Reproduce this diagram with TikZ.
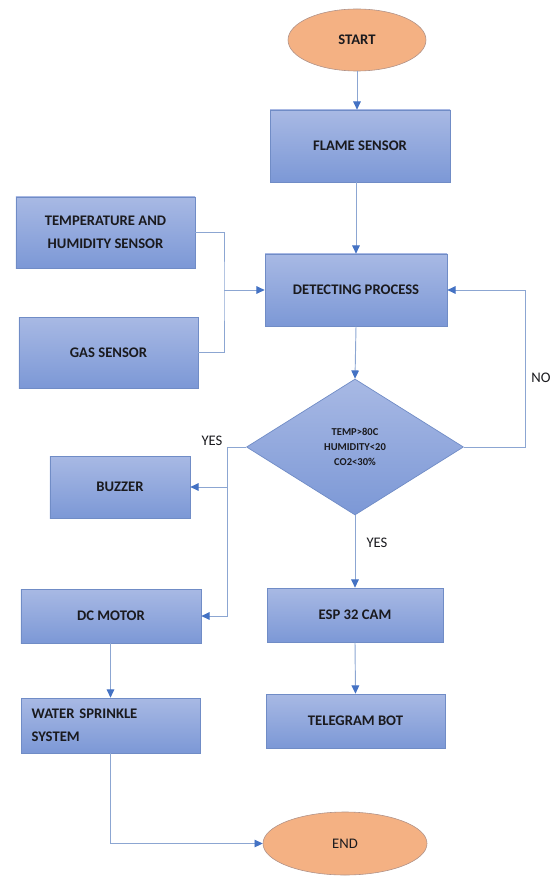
\documentclass[tikz,border=0pt]{standalone}
\usepackage{fontspec}
\setmainfont{Carlito}
\usetikzlibrary{shapes.geometric,arrows.meta}
\definecolor{boxtop}{RGB}{168,185,228}
\definecolor{boxbot}{RGB}{124,152,214}
\definecolor{boxedge}{RGB}{112,140,198}
\definecolor{ovalfill}{RGB}{244,177,131}
\definecolor{ovaledge}{RGB}{176,146,136}
\definecolor{linkline}{RGB}{140,166,210}
\definecolor{tipblue}{RGB}{68,114,196}
\definecolor{ink}{RGB}{26,26,30}
\begin{document}
\begin{tikzpicture}[x=0.03cm,y=-0.03cm,
    proc/.style={draw=boxedge,line width=0.6pt,top color=boxtop,bottom color=boxbot,
        text=ink,font=\fontsize{12.5}{19.5}\selectfont\bfseries,align=center,inner sep=0pt},
    oval/.style={ellipse,draw=ovaledge,line width=0.5pt,fill=ovalfill,text=ink,
        font=\fontsize{12.5}{15}\selectfont,inner sep=0pt},
    decide/.style={diamond,draw=boxedge,line width=0.6pt,top color=boxtop,bottom color=boxbot,
        text=ink,font=\fontsize{9}{12.8}\selectfont\bfseries,align=center,inner sep=0pt},
    link/.style={draw=linkline,line width=0.8pt},
    flow/.style={link,-{Triangle[length=7pt,width=6.5pt,color=tipblue]}},
    tag/.style={text=ink,font=\fontsize{12.5}{15}\selectfont,inner sep=0pt}]
    \useasboundingbox (0,0) rectangle (558,876);
    % nodes
    \node[oval,minimum width=4.14cm,minimum height=1.86cm] (start) at (357,40) {\bfseries START};
    \node[proc,minimum width=5.4cm,minimum height=2.16cm] (flame) at (360,146) {FLAME SENSOR};
    \node[proc,minimum width=5.37cm,minimum height=2.13cm] (temphum) at (105.5,232.5) {TEMPERATURE AND\\HUMIDITY SENSOR};
    \node[proc,minimum width=5.37cm,minimum height=2.13cm] (gas) at (108.5,352.5) {GAS SENSOR};
    \node[proc,minimum width=5.46cm,minimum height=2.16cm] (detect) at (356,290) {DETECTING PROCESS};
    \node[decide,minimum width=6.51cm,minimum height=4.08cm] (check) at (355,447) {TEMP>80C\\HUMIDITY<20\\CO2<30\%};
    \node[proc,minimum width=4.2cm,minimum height=1.86cm] (buzzer) at (120,487) {BUZZER};
    \node[proc,minimum width=5.4cm,minimum height=1.62cm] (motor) at (111,616) {DC MOTOR};
    \node[proc,minimum height=1.65cm,text width=4.73cm,inner xsep=9pt,align=left] (sprinkle) at (110.5,725.5) {WATER SPRINKLE\\SYSTEM};
    \node[proc,minimum width=5.28cm,minimum height=1.62cm] (espcam) at (355,615) {ESP 32 CAM};
    \node[proc,minimum width=5.37cm,minimum height=1.62cm] (telegram) at (355.5,721) {TELEGRAM BOT};
    \node[oval,minimum width=4.92cm,minimum height=1.89cm] (stop) at (345,843.5) {END};
    \coordinate (join) at (224,290);
    \coordinate (noturn) at (525,447);
    \coordinate (yesturn) at (227,447);
    % connectors
    \draw[flow] (start.south) -- (start.south |- flame.north);
    \draw[flow] (detect.north |- flame.south) -- (detect.north);
    \draw[link] (temphum.east) -| (join) |- (gas.east);
    \draw[flow] (join) -- (detect.west);
    \draw[flow] (detect.south) -- (check.north);
    \draw[flow] (check.east) -- (noturn) |- (detect.east);
    \draw[flow] (check.west) -- (yesturn) |- (motor.east);
    \draw[flow] (yesturn |- buzzer.east) -- (buzzer.east);
    \draw[flow] (check.south) -- (espcam.north);
    \draw[flow] (espcam.south) -- (telegram.north);
    \draw[flow] (motor.south -| sprinkle.north) -- (sprinkle.north);
    \draw[flow] (sprinkle.south) |- (stop.west);
    % labels
    \node[tag] (nolabel) at (541,378) {NO};
    \node[tag] (yesleft) at (212,441) {YES};
    \node[tag] (yesdown) at (377,543) {YES};
\end{tikzpicture}
\end{document}
